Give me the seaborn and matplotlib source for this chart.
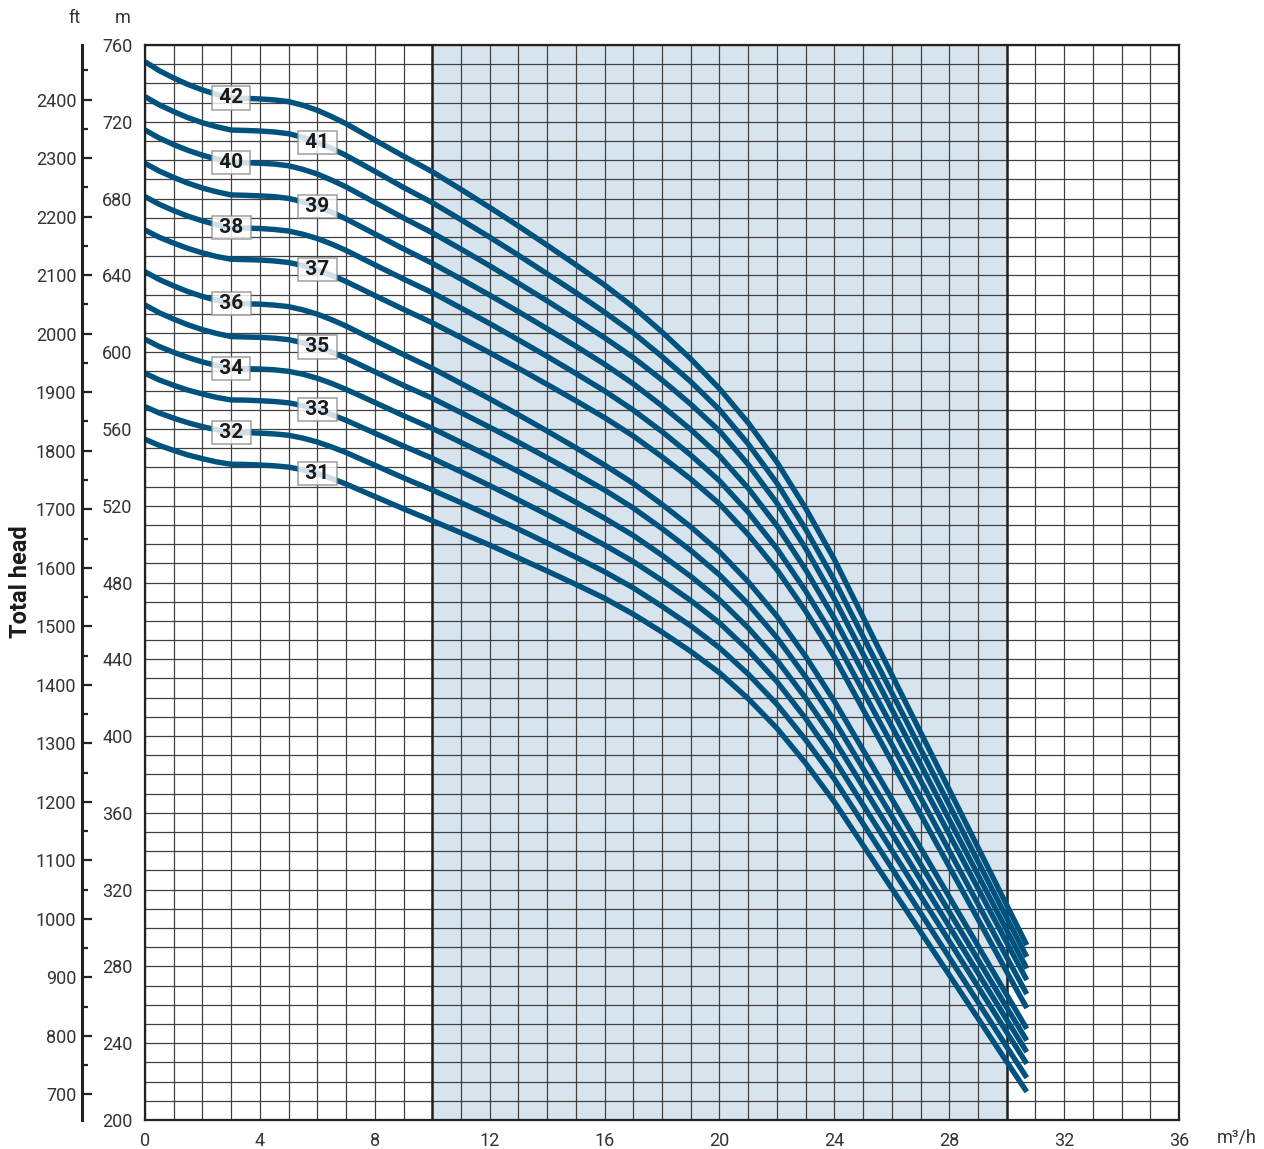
import numpy as np
import pandas as pd
import matplotlib
matplotlib.use("Agg")
import matplotlib.pyplot as plt
from matplotlib.ticker import MultipleLocator
import seaborn as sns

# flow rate (m3/h) where each curve was read
flow = [0, 0.5, 1, 1.5, 2, 2.5, 3, 3.5, 4, 4.5, 5, 5.5, 6, 6.5, 7, 8, 9, 10,
        11, 12, 13, 14, 15, 16, 17, 18, 19, 20, 21, 22, 23, 24, 26, 28, 30, 30.7]

# total head (m) for every stage count
h42 = [751.3, 746.6, 742.8, 739.4, 736.6, 734.2, 732.4, 732.2, 731.9, 731.4, 730.5, 728.6, 726.0, 722.7, 719.0, 710.5, 702.1, 694.0, 684.8, 675.4, 665.7, 655.7, 645.5, 635.0, 623.5, 610.5, 596.5, 581.0, 563.2, 542.7, 518.7, 492.0, 432.0, 372.1, 312.0, 291.1]
h41 = [733.1, 728.8, 725.3, 722.1, 719.5, 717.4, 715.7, 715.5, 715.2, 714.7, 713.8, 711.9, 709.4, 706.1, 702.5, 694.2, 685.8, 677.9, 669.0, 659.9, 650.5, 640.8, 631.0, 620.8, 610.0, 597.7, 584.6, 570.0, 552.2, 531.8, 507.8, 481.2, 422.6, 364.1, 305.4, 285.0]
h40 = [715.7, 711.5, 708.1, 705.1, 702.6, 700.5, 698.9, 698.7, 698.4, 698.0, 697.1, 695.2, 692.8, 689.6, 686.1, 678.0, 669.9, 662.2, 653.7, 645.0, 635.9, 626.7, 617.2, 607.5, 597.2, 585.5, 572.9, 559.0, 541.5, 521.4, 497.8, 471.5, 414.0, 356.5, 298.9, 278.9]
h39 = [698.4, 694.3, 691.0, 688.0, 685.5, 683.5, 681.9, 681.7, 681.4, 681.0, 680.1, 678.3, 676.0, 672.9, 669.4, 661.6, 653.8, 646.3, 638.1, 629.7, 621.1, 612.2, 603.1, 593.7, 583.5, 572.0, 559.7, 546.0, 529.1, 509.6, 486.7, 461.3, 405.1, 348.8, 292.5, 272.9]
h38 = [681.0, 677.0, 673.7, 670.8, 668.4, 666.3, 664.8, 664.6, 664.4, 663.9, 663.1, 661.4, 659.2, 656.3, 653.0, 645.5, 638.1, 631.0, 623.0, 614.9, 606.4, 597.8, 588.9, 579.8, 569.8, 558.6, 546.4, 533.0, 516.6, 497.7, 475.6, 451.0, 395.7, 340.3, 284.9, 265.6]
h37 = [663.6, 659.8, 656.8, 654.0, 651.7, 649.8, 648.4, 648.2, 648.0, 647.5, 646.7, 645.1, 642.9, 640.0, 636.8, 629.5, 622.3, 615.3, 607.6, 599.7, 591.6, 583.2, 574.7, 565.9, 556.3, 545.5, 533.9, 521.0, 505.0, 486.7, 465.1, 441.2, 386.6, 332.0, 277.3, 258.3]
h36 = [641.9, 637.8, 634.5, 631.5, 629.0, 627.0, 625.4, 625.2, 625.0, 624.5, 623.7, 622.0, 619.8, 616.9, 613.6, 606.1, 598.7, 591.6, 583.7, 575.7, 567.4, 558.9, 550.2, 541.2, 531.6, 520.7, 509.0, 496.0, 480.4, 462.5, 441.5, 418.2, 367.3, 316.3, 265.3, 247.5]
h35 = [624.6, 620.5, 617.2, 614.2, 611.7, 609.7, 608.1, 607.9, 607.7, 607.3, 606.5, 604.9, 602.7, 600.0, 596.9, 589.8, 582.7, 576.0, 568.5, 560.9, 553.1, 545.0, 536.7, 528.2, 518.8, 508.1, 496.7, 484.0, 468.8, 451.3, 430.8, 408.0, 358.3, 308.5, 258.7, 241.4]
h34 = [606.7, 602.9, 599.9, 597.2, 594.9, 593.0, 591.6, 591.4, 591.2, 590.8, 590.0, 588.5, 586.4, 583.7, 580.6, 573.8, 566.9, 560.3, 553.0, 545.6, 537.8, 529.9, 521.8, 513.5, 504.5, 494.2, 483.2, 471.0, 456.4, 439.6, 419.8, 397.9, 349.4, 300.9, 252.3, 235.4]
h33 = [589.0, 585.5, 582.7, 580.2, 578.2, 576.4, 575.1, 575.0, 574.7, 574.3, 573.6, 572.1, 570.0, 567.4, 564.5, 557.8, 551.1, 544.7, 537.7, 530.5, 523.0, 515.4, 507.6, 499.5, 490.9, 481.1, 470.6, 459.0, 444.8, 428.4, 409.2, 387.8, 340.5, 293.2, 245.8, 229.3]
h32 = [571.6, 568.3, 565.6, 563.2, 561.2, 559.5, 558.2, 558.1, 557.8, 557.4, 556.7, 555.2, 553.2, 550.6, 547.7, 541.1, 534.5, 528.2, 521.6, 514.8, 507.8, 500.6, 493.2, 485.6, 477.2, 467.6, 457.4, 446.0, 432.3, 416.6, 398.1, 377.6, 331.2, 284.7, 238.2, 222.0]
h31 = [554.6, 551.4, 548.8, 546.4, 544.5, 542.8, 541.6, 541.5, 541.2, 540.8, 540.1, 538.7, 536.7, 534.2, 531.3, 524.8, 518.4, 512.2, 505.9, 499.5, 492.8, 486.0, 479.0, 471.8, 463.5, 454.2, 444.1, 433.0, 419.5, 404.1, 385.9, 365.7, 320.6, 275.6, 230.4, 214.7]

stages = [42, 41, 40, 39, 38, 37, 36, 35, 34, 33, 32, 31]
heads = [h42, h41, h40, h39, h38, h37, h36, h35, h34, h33, h32, h31]

m_ticks = list(range(200, 761, 40))
ft_ticks = list(range(700, 2401, 100))
x_ticks = list(range(0, 37, 4))

rows = []
for n, h in zip(stages, heads):
    for q, v in zip(flow, h):
        rows.append({"flow": q, "head": v, "stages": n})
df = pd.DataFrame(rows)

sns.set_style("white")
plt.rcParams['font.family'] = ['Roboto', 'DejaVu Sans']

line_col = "#00527e"
grid_col = "#404040"
txt_col = "#333333"

fig = plt.figure(figsize=(12.64, 11.49), dpi=100)
ax = fig.add_axes([145/1264, 1 - 1120/1149, 1034/1264, 1075/1149])

ax.set_xlim(0, 36)
ax.set_ylim(200, 760)

# best efficiency band
ax.axvspan(10, 30, color="#d8e4ed", zorder=0, lw=0)

ax.xaxis.set_minor_locator(MultipleLocator(1))
ax.yaxis.set_minor_locator(MultipleLocator(10))
ax.set_xticks(x_ticks)
ax.set_yticks(m_ticks)
ax.set_axisbelow(True)
ax.grid(which="both", color=grid_col, lw=0.9, zorder=0.5)
ax.axvline(10, color="#222222", lw=1.8, zorder=0.6)
ax.axvline(30, color="#222222", lw=1.8, zorder=0.6)

sns.lineplot(data=df, x="flow", y="head", hue="stages", units="stages",
             estimator=None, sort=False, legend=False,
             palette={n: line_col for n in stages}, lw=3.9, ax=ax,
             solid_capstyle="butt", solid_joinstyle="round", zorder=3)

for n, h in zip(stages, heads):
    i = 6 if n % 2 == 0 else 12
    ax.text(flow[i], h[i], f" {n} ", ha="center", va="center", fontsize=15,
            fontweight="bold", color="#1a1a1a", zorder=5,
            bbox=dict(boxstyle="square,pad=0.1", fc="white", ec="#8a8a8a",
                      lw=1.1, alpha=0.82))

for s in ax.spines.values():
    s.set_color("#222222")
    s.set_linewidth(1.6)
    s.set_zorder(4)

ax.tick_params(which="minor", length=0)
ax.tick_params(which="major", direction="out", length=6, width=1.4,
               color="#222222", labelsize=13, labelcolor=txt_col, pad=3)
ax.set_xlabel("")
ax.set_ylabel("")

# feet scale on the far left
sec = ax.secondary_yaxis(-0.061, functions=(lambda m: m * 3.28084,
                                             lambda f: f / 3.28084))
sec.set_yticks(ft_ticks)
sec.yaxis.set_minor_locator(MultipleLocator(50))
sec.spines["left"].set_linewidth(2.2)
sec.spines["left"].set_color("#222222")
sec.tick_params(which="major", direction="in", length=7, width=1.6,
                color="#222222", labelsize=13, labelcolor=txt_col, pad=4)
sec.tick_params(which="minor", direction="in", length=4, width=1.6,
                color="#222222")

fig.text(75/1264, 1 - 18/1149, "ft", ha="center", va="center",
         fontsize=13, color=txt_col)
fig.text(123/1264, 1 - 18/1149, "m", ha="center", va="center",
         fontsize=13, color=txt_col)
fig.text(1237/1264, 1 - 1138/1149, "m³/h", ha="center", va="center",
         fontsize=13, color=txt_col)
fig.text(21/1264, 1 - 582/1149, "Total head", ha="center", va="center",
         rotation=90, fontsize=17, fontweight="bold", color="#1a1a1a")

fig.savefig("out.png", dpi=100)
